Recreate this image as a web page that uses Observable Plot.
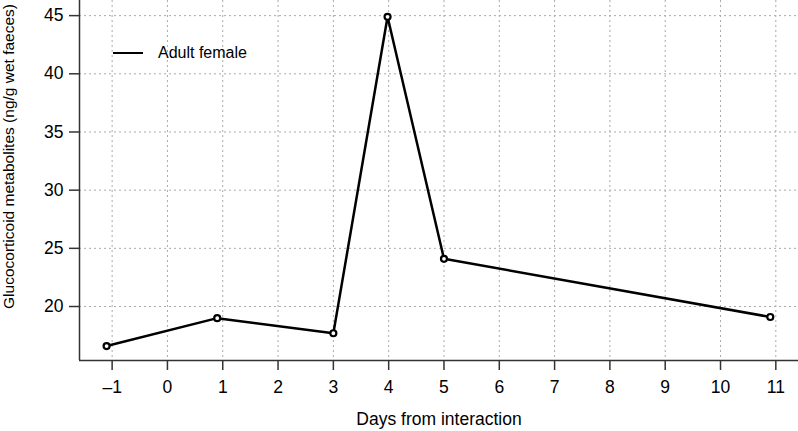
<!DOCTYPE html>
<html>
<head>
<meta charset="utf-8">
<script src="https://cdn.jsdelivr.net/npm/d3@7"></script>
<script src="https://cdn.jsdelivr.net/npm/@observablehq/plot@0.6"></script>
<style>
  html, body { margin: 0; padding: 0; background: #fff; }
  #wrap { position: relative; width: 798px; height: 431px; font-family: "Liberation Sans", Arial, sans-serif; }
  #legend { position: absolute; left: 113px; top: 44px; display: flex; align-items: center; font-size: 16px; color: #000; }
  #legend .sw { width: 30px; height: 0; border-top: 2.5px solid #000; margin-right: 15px; }
</style>
</head>
<body>
<div id="wrap">
  <div id="chart"></div>
  <div id="legend"><span class="sw"></span><span>Adult female</span></div>
</div>
<script>
const days = [-1.1, 0.9, 3.0, 3.98, 5.0, 10.9];
const values = [16.6, 19.0, 17.7, 44.9, 24.1, 19.1];
const xTicks = [-1, 0, 1, 2, 3, 4, 5, 6, 7, 8, 9, 10, 11];
const yTicks = [20, 25, 30, 35, 40, 45];
const xDomain = [-1.59, 11.41];
const yDomain = [15.36, 46.3];
const seriesName = "Adult female";
const xLabel = "Days from interaction";
const yLabel = "Glucocorticoid metabolites (ng/g wet faeces)";

const data = days.map((d, i) => ({day: d, value: values[i]}));

const chart = Plot.plot({
  width: 798,
  height: 431,
  marginLeft: 79,
  marginRight: 0,
  marginTop: 0,
  marginBottom: 71,
  style: {fontFamily: "Liberation Sans, Arial, sans-serif", fontSize: "17.5px", color: "#000", background: "#fff"},
  x: {domain: xDomain},
  y: {domain: yDomain},
  marks: [
    Plot.gridX(xTicks, {stroke: "#aaa", strokeOpacity: 1, strokeDasharray: "2,3", strokeWidth: 1}),
    Plot.gridY(yTicks, {stroke: "#aaa", strokeOpacity: 1, strokeDasharray: "2,3", strokeWidth: 1}),
    Plot.ruleY([yDomain[0]], {stroke: "#333", strokeWidth: 1.5}),
    Plot.ruleX([xDomain[0]], {stroke: "#333", strokeWidth: 1.5}),
    Plot.axisX(xTicks, {tickSize: 10, tickPadding: 10, stroke: "#333", strokeWidth: 1.5, fontSize: 17.5,
      tickFormat: d => d < 0 ? "\u2013" + Math.abs(d) : String(d),
      label: xLabel, labelAnchor: "center", labelArrow: "none", labelOffset: 64}),
    Plot.axisY(yTicks, {tickSize: 10, tickPadding: 6, stroke: "#333", strokeWidth: 1.5, fontSize: 17.5,
      label: null}),
    Plot.text([yLabel], {frameAnchor: "left", text: d => d, rotate: -90, dx: -70, dy: -24,
      textAnchor: "middle", fontSize: 15.5, fill: "#000"}),
    Plot.line(data, {x: "day", y: "value", stroke: "#000", strokeWidth: 2.5}),
    Plot.dot(data, {x: "day", y: "value", r: 3, stroke: "#000", strokeWidth: 2.2, fill: "#fff"})
  ]
});
document.getElementById("chart").appendChild(chart);
</script>
</body>
</html>
